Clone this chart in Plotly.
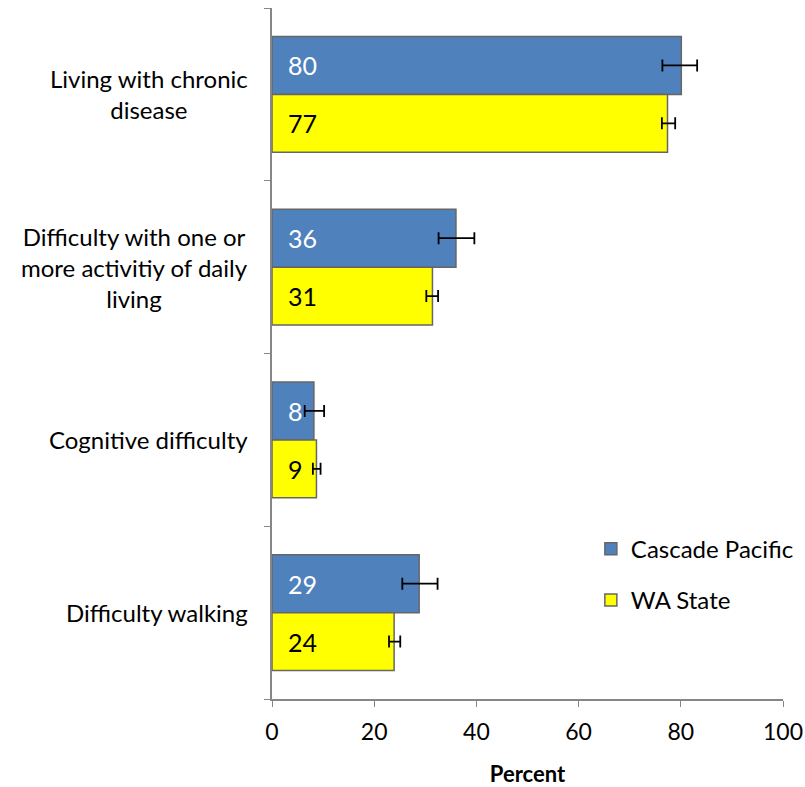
import plotly.graph_objects as go

categories = ["Living with chronic<br>disease",
              "Difficulty with one or<br>more activitiy of daily<br>living",
              "Cognitive difficulty",
              "Difficulty walking"]
series_names = ["Cascade Pacific", "WA State"]
cascade_values = [80.1, 36.0, 8.2, 28.8]
cascade_err_plus = [3.1, 3.6, 2.0, 3.6]
cascade_err_minus = [3.7, 3.4, 1.8, 3.3]
wa_values = [77.4, 31.4, 8.7, 23.9]
wa_err_plus = [1.5, 1.1, 0.8, 1.2]
wa_err_minus = [1.1, 1.2, 0.7, 1.0]
cascade_labels = ["80", "36", "8", "29"]
wa_labels = ["77", "31", "9", "24"]
x_ticks = [0, 20, 40, 60, 80, 100]

FONT = "Lato"
BLUE = "#4F81BD"
YELLOW = "#FFFF00"
EDGE = "#666666"
AXIS = "#868686"

cat_idx = list(range(len(categories)))

fig = go.Figure()
fig.add_trace(go.Bar(
    name=series_names[0], y=cat_idx, x=cascade_values, orientation="h",
    marker=dict(color=BLUE, line=dict(color=EDGE, width=1.5)),
    error_x=dict(type="data", array=cascade_err_plus, arrayminus=cascade_err_minus,
                 color="black", thickness=1.8, width=6),
    legendgroup="a",
))
fig.add_trace(go.Bar(
    name=series_names[1], y=cat_idx, x=wa_values, orientation="h",
    marker=dict(color=YELLOW, line=dict(color=EDGE, width=1.5)),
    error_x=dict(type="data", array=wa_err_plus, arrayminus=wa_err_minus,
                 color="black", thickness=1.8, width=6),
    legendgroup="b",
))

annotations = []
bar_off = 0.1675
for i, cat in enumerate(categories):
    annotations.append(dict(
        x=0, xref="paper", y=i, yref="y", text=cat, showarrow=False,
        xanchor="right", yanchor="middle", align="center", xshift=-22,
        font=dict(family=FONT, size=24, color="black")))
    annotations.append(dict(
        x=0, xref="x", y=i - bar_off, yref="y", text=cascade_labels[i], showarrow=False,
        xanchor="left", yanchor="middle", xshift=14,
        font=dict(family=FONT, size=25, color="white")))
    annotations.append(dict(
        x=0, xref="x", y=i + bar_off, yref="y", text=wa_labels[i], showarrow=False,
        xanchor="left", yanchor="middle", xshift=14,
        font=dict(family=FONT, size=25, color="black")))

fig.update_layout(
    width=805, height=787,
    margin=dict(l=272, r=22, t=8, b=88, autoexpand=False),
    paper_bgcolor="white", plot_bgcolor="white",
    barmode="group", bargap=0.33, bargroupgap=0,
    font=dict(family=FONT, color="black"),
    showlegend=True,
    legend=dict(x=0.624, y=0.18, xanchor="left", yanchor="middle",
                font=dict(family=FONT, size=24), tracegroupgap=17,
                bgcolor="rgba(0,0,0,0)"),
    annotations=annotations,
    xaxis=dict(range=[0, 100], tickvals=x_ticks, ticks="outside", ticklen=6,
               tickcolor=AXIS, showline=True, linecolor=AXIS, linewidth=1.5,
               showgrid=False, zeroline=False, automargin=False,
               tickfont=dict(family=FONT, size=23), ticklabelstandoff=6,
               title=dict(text="<b>Percent</b>", font=dict(family=FONT, size=22), standoff=22)),
    yaxis=dict(range=[3.5, -0.5], tickvals=[-0.5, 0.5, 1.5, 2.5, 3.5], ticktext=["", "", "", "", ""],
               ticks="outside", ticklen=6, tickcolor=AXIS, automargin=False,
               showline=True, linecolor=AXIS, linewidth=1.5, showgrid=False,
               zeroline=False, showticklabels=False),
)

fig.write_html("out.html", config={"displayModeBar": False},
               post_script="document.body.style.margin='0';document.body.style.overflow='hidden';")
